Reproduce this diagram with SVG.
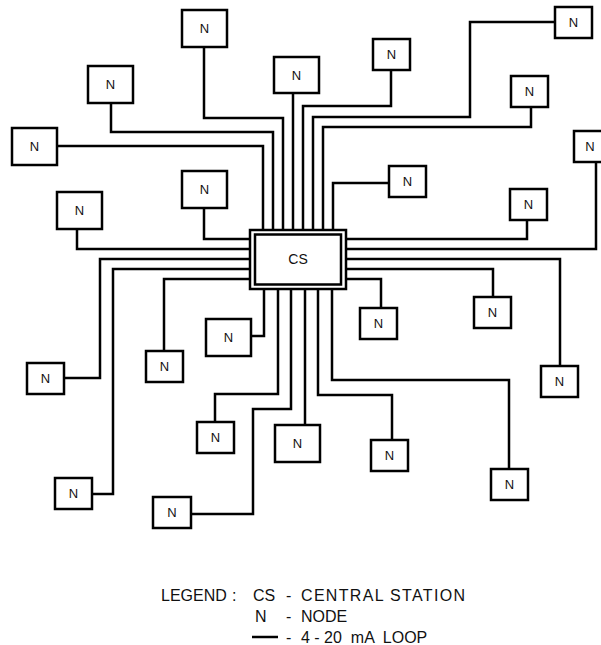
<svg xmlns="http://www.w3.org/2000/svg" width="601" height="645" viewBox="0 0 601 645">
<style>
.box{fill:#fff;stroke:#000;stroke-width:2.5}
.lbl{font-family:"Liberation Sans",Arial,sans-serif;font-size:13px;text-anchor:middle;fill:#111}
.cn{fill:none;stroke:#000;stroke-width:2.5;stroke-linejoin:miter}
.lg{font-family:"Liberation Sans",Arial,sans-serif;font-size:16px;fill:#111}
</style>
<rect width="601" height="645" fill="#fff"/>
<g id="connectors">
<polyline class="cn" points="204,47 204,118 283,118 283,230"/>
<polyline class="cn" points="111,103 111,132 273,132 273,230"/>
<polyline class="cn" points="57,146 263,146 263,230"/>
<polyline class="cn" points="77,229 77,249 250,249"/>
<polyline class="cn" points="204,208 204,239 250,239"/>
<polyline class="cn" points="293,93 293,230"/>
<polyline class="cn" points="391,70 391,106 303,106 303,230"/>
<polyline class="cn" points="555,22 470,22 470,117 313,117 313,230"/>
<polyline class="cn" points="531,107 531,127 323,127 323,230"/>
<polyline class="cn" points="389,183 333,183 333,230"/>
<polyline class="cn" points="527,220 527,239 346,239"/>
<polyline class="cn" points="596,162 596,249 346,249"/>
<polyline class="cn" points="560,366 560,259 346,259"/>
<polyline class="cn" points="493,297 493,269 346,269"/>
<polyline class="cn" points="381,308 381,279 346,279"/>
<polyline class="cn" points="64,378 100,378 100,259 250,259"/>
<polyline class="cn" points="92,494 113,494 113,269 250,269"/>
<polyline class="cn" points="164,351 164,279 250,279"/>
<polyline class="cn" points="251,336 264,336 264,289"/>
<polyline class="cn" points="215,422 215,394 278,394 278,289"/>
<polyline class="cn" points="191,514 253,514 253,409 291,409 291,289"/>
<polyline class="cn" points="305,425 305,289"/>
<polyline class="cn" points="392,440 392,395 318,395 318,289"/>
<polyline class="cn" points="509,469 509,380 332,380 332,289"/>
</g>
<g id="cs">
<rect class="box" x="250" y="230" width="96" height="59"/>
<rect class="box" x="255" y="234.5" width="86" height="50"/>
<text x="298" y="264" font-family="'Liberation Sans',Arial,sans-serif" font-size="14" text-anchor="middle" fill="#111">CS</text>
</g>
<g id="n1"><rect class="box" x="182" y="10" width="45" height="37"/><text class="lbl" x="204.5" y="33">N</text></g>
<g id="n2"><rect class="box" x="88" y="66" width="45" height="37"/><text class="lbl" x="110.5" y="89">N</text></g>
<g id="n3"><rect class="box" x="12" y="128" width="45" height="37"/><text class="lbl" x="34.5" y="151">N</text></g>
<g id="n4"><rect class="box" x="57" y="192" width="45" height="37"/><text class="lbl" x="79.5" y="215">N</text></g>
<g id="n5"><rect class="box" x="182" y="171" width="45" height="37"/><text class="lbl" x="204.5" y="194">N</text></g>
<g id="n6"><rect class="box" x="274" y="57" width="45" height="36"/><text class="lbl" x="296.5" y="79.5">N</text></g>
<g id="n7"><rect class="box" x="373" y="39" width="37" height="31"/><text class="lbl" x="391.5" y="59">N</text></g>
<g id="n8"><rect class="box" x="555" y="7" width="37" height="31"/><text class="lbl" x="573.5" y="27">N</text></g>
<g id="n9"><rect class="box" x="511" y="76" width="37" height="31"/><text class="lbl" x="529.5" y="96">N</text></g>
<g id="n10"><rect class="box" x="389" y="166" width="37" height="31"/><text class="lbl" x="407.5" y="186">N</text></g>
<g id="n11"><rect class="box" x="510" y="189" width="37" height="31"/><text class="lbl" x="528.5" y="209">N</text></g>
<g id="n12"><rect class="box" x="574" y="131" width="37" height="31"/><text class="lbl" x="590" y="151">N</text></g>
<g id="n13"><rect class="box" x="541" y="366" width="37" height="31"/><text class="lbl" x="559.5" y="386">N</text></g>
<g id="n14"><rect class="box" x="474" y="297" width="37" height="31"/><text class="lbl" x="492.5" y="317">N</text></g>
<g id="n15"><rect class="box" x="360" y="308" width="37" height="31"/><text class="lbl" x="378.5" y="328">N</text></g>
<g id="n16"><rect class="box" x="27" y="363" width="37" height="31"/><text class="lbl" x="45.5" y="383">N</text></g>
<g id="n17"><rect class="box" x="55" y="478" width="37" height="31"/><text class="lbl" x="73.5" y="498">N</text></g>
<g id="n18"><rect class="box" x="146" y="351" width="37" height="31"/><text class="lbl" x="164.5" y="371">N</text></g>
<g id="n19"><rect class="box" x="206" y="319" width="45" height="37"/><text class="lbl" x="228.5" y="342">N</text></g>
<g id="n20"><rect class="box" x="197" y="422" width="37" height="31"/><text class="lbl" x="215.5" y="442">N</text></g>
<g id="n21"><rect class="box" x="153" y="497" width="38" height="31"/><text class="lbl" x="172" y="517">N</text></g>
<g id="n22"><rect class="box" x="275" y="425" width="45" height="37"/><text class="lbl" x="297.5" y="448">N</text></g>
<g id="n23"><rect class="box" x="371" y="440" width="37" height="31"/><text class="lbl" x="389.5" y="460">N</text></g>
<g id="n24"><rect class="box" x="491" y="469" width="37" height="31"/><text class="lbl" x="509.5" y="489">N</text></g>
<g id="legend">
<text class="lg" x="161" y="601">LEGEND</text>
<text class="lg" x="232" y="601">:</text>
<text class="lg" x="253" y="601">CS</text>
<text class="lg" x="286" y="601">-</text>
<text class="lg" x="301" y="601" textLength="164">CENTRAL STATION</text>
<text class="lg" x="255" y="622">N</text>
<text class="lg" x="286" y="622">-</text>
<text class="lg" x="301" y="622">NODE</text>
<line class="cn" x1="252" y1="637" x2="278" y2="637"/>
<text class="lg" x="286" y="643">-</text>
<text class="lg" x="301" y="643" xml:space="preserve">4 - 20  mA  LOOP</text>
</g>
</svg>
